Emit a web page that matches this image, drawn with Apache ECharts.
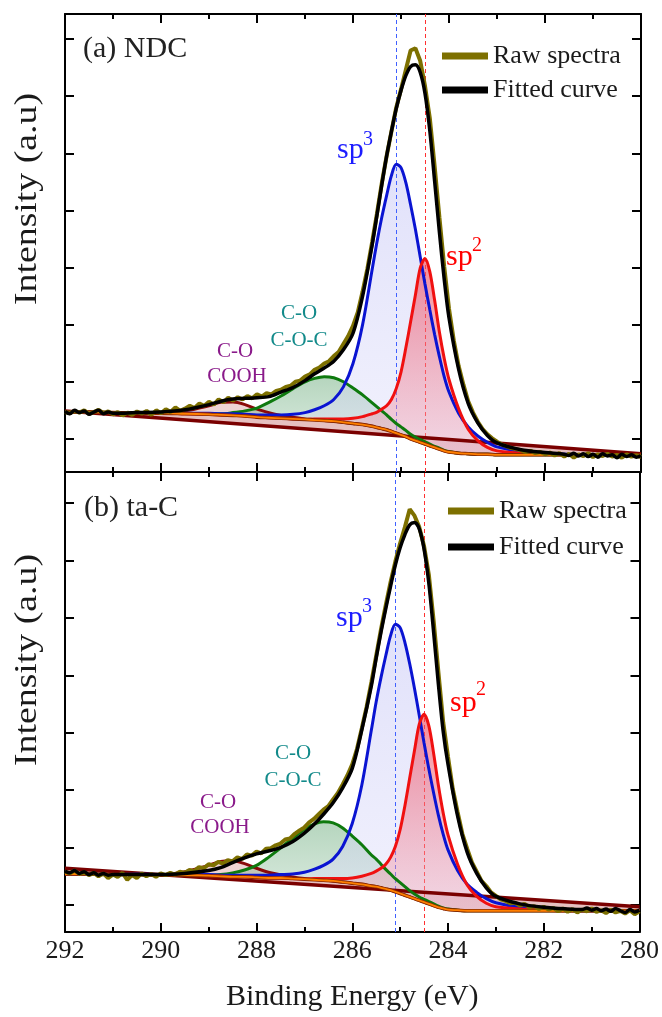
<!DOCTYPE html>
<html>
<head>
<meta charset="utf-8">
<script src="https://cdn.jsdelivr.net/npm/echarts@6.0.0/dist/echarts.min.js"></script>
<style>
  html, body { margin: 0; padding: 0; background: #fff; }
  #chart { width: 662px; height: 1017px; }
</style>
</head>
<body>
<div id="chart"></div>
<script>
// binding energy grid shared by the background and the fitted components (eV)
const energy = [292, 291.5, 291, 290.5, 290, 289.5, 289, 288.75, 288.5, 288.25, 288, 287.75, 287.5, 287.25, 287,
  286.8, 286.6, 286.4, 286.2, 286, 285.8, 285.6, 285.5, 285.4, 285.3, 285.2, 285.1, 285, 284.9, 284.8, 284.7,
  284.6, 284.5, 284.4, 284.3, 284.2, 284.1, 284, 283.8, 283.6, 283.4, 283.2, 283, 282.5, 282, 281.5, 281, 280.5, 280]

// vertical guide lines (sp3, sp2 positions)
const peakLines = [285.1, 284.5]
const yTicks = [0, 1, 2, 3, 4, 5, 6, 7]

// ---------- (a) NDC ----------
const shirleyA = [0.47, 0.47, 0.46, 0.45, 0.45, 0.44, 0.43, 0.42, 0.41, 0.40,
  0.38, 0.37, 0.36, 0.35, 0.34, 0.33, 0.32, 0.31, 0.29, 0.27,
  0.25, 0.22, 0.20, 0.18, 0.16, 0.13, 0.10, 0.07, 0.04, 0.00,
  -0.03, -0.06, -0.09, -0.12, -0.15, -0.18, -0.21, -0.23, -0.25, -0.26,
  -0.27, -0.27, -0.28, -0.28, -0.28, -0.28, -0.28, -0.28, -0.28]
// component heights above the background
const sp3A = [0, 0, 0, 0.01, 0.01, 0.01, 0.02, 0.02, 0.03, 0.03,
  0.04, 0.05, 0.06, 0.08, 0.12, 0.18, 0.26, 0.38, 0.62, 1.05,
  1.75, 2.75, 3.25, 3.70, 4.10, 4.48, 4.71, 4.68, 4.45, 4.10,
  3.70, 3.25, 2.80, 2.38, 1.98, 1.62, 1.30, 1.05, 0.70, 0.47,
  0.32, 0.21, 0.14, 0.06, 0.03, 0.01, 0, 0, 0]
const sp2A = [0, 0, 0, 0, 0, 0, 0, 0, 0, 0,
  0, 0, 0, 0, 0, 0.02, 0.03, 0.04, 0.06, 0.09,
  0.14, 0.22, 0.27, 0.34, 0.42, 0.56, 0.78, 1.10, 1.55, 2.05,
  2.55, 3.05, 3.25, 3.05, 2.58, 2.05, 1.62, 1.27, 0.78, 0.43,
  0.24, 0.12, 0.07, 0.03, 0.01, 0, 0, 0, 0]
const cocA = [0, 0, 0, 0, 0, 0.01, 0.01, 0.02, 0.05, 0.09,
  0.16, 0.27, 0.39, 0.53, 0.66, 0.73, 0.77, 0.76, 0.71, 0.62,
  0.52, 0.41, 0.36, 0.31, 0.26, 0.21, 0.17, 0.14, 0.11, 0.08,
  0.06, 0.05, 0.04, 0.03, 0.02, 0.02, 0.01, 0.01, 0, 0,
  0, 0, 0, 0, 0, 0, 0, 0, 0]
const coohA = [0, 0, 0, 0, 0.01, 0.05, 0.15, 0.22, 0.235, 0.20,
  0.14, 0.09, 0.05, 0.03, 0.01, 0.01, 0, 0, 0, 0,
  0, 0, 0, 0, 0, 0, 0, 0, 0, 0,
  0, 0, 0, 0, 0, 0, 0, 0, 0, 0,
  0, 0, 0, 0, 0, 0, 0, 0, 0]
const linearA = [[292, 0.49], [280, -0.26]]
const fitA = [[292.0, 0.48], [291.9, 0.44], [291.8, 0.50], [291.7, 0.46], [291.6, 0.49], [291.5, 0.43], [291.4, 0.47],
  [291.3, 0.50], [291.2, 0.44], [291.1, 0.47], [291.0, 0.45], [290.75, 0.45], [290.5, 0.46], [290, 0.47], [289.5, 0.51],
  [289, 0.60], [288.75, 0.66], [288.5, 0.70], [288.25, 0.71], [288, 0.72], [287.75, 0.74], [287.5, 0.82], [287.25, 0.90],
  [287, 1.02], [286.8, 1.14], [286.6, 1.24], [286.4, 1.36], [286.2, 1.56], [286, 1.85], [285.8, 2.50], [285.6, 3.40],
  [285.5, 3.92], [285.4, 4.45], [285.3, 4.95], [285.2, 5.38], [285.1, 5.78], [285, 6.10], [284.9, 6.36], [284.8, 6.52],
  [284.7, 6.55], [284.6, 6.42], [284.5, 6.05], [284.4, 5.40], [284.3, 4.52], [284.2, 3.62], [284.1, 2.80], [284, 2.12],
  [283.8, 1.22], [283.6, 0.62], [283.4, 0.28], [283.2, 0.06], [283, -0.07], [282.5, -0.19], [282, -0.24], [281.6, -0.27],
  [281.5, -0.29], [281.4, -0.25], [281.3, -0.30], [281.2, -0.26], [281.1, -0.31], [281.0, -0.27], [280.9, -0.32],
  [280.8, -0.26], [280.7, -0.30], [280.6, -0.28], [280.5, -0.33], [280.4, -0.27], [280.3, -0.31], [280.2, -0.28],
  [280.1, -0.32], [280.0, -0.29]]
const rawA = [[292.0, 0.47], [291.9, 0.45], [291.8, 0.49], [291.7, 0.46], [291.6, 0.50], [291.5, 0.44], [291.4, 0.47],
  [291.3, 0.51], [291.2, 0.45], [291.1, 0.48], [291.0, 0.43], [290.9, 0.47], [290.8, 0.41], [290.7, 0.46], [290.6, 0.42],
  [290.5, 0.48], [290.4, 0.44], [290.3, 0.49], [290.2, 0.42], [290.1, 0.50], [290.0, 0.45], [289.9, 0.52], [289.8, 0.47],
  [289.7, 0.55], [289.6, 0.49], [289.5, 0.53], [289.4, 0.58], [289.3, 0.54], [289.2, 0.62], [289.1, 0.58], [289.0, 0.65],
  [288.9, 0.60], [288.8, 0.69], [288.7, 0.64], [288.6, 0.72], [288.5, 0.67], [288.4, 0.73], [288.3, 0.69], [288.2, 0.75],
  [288.1, 0.71], [288.0, 0.78], [287.9, 0.74], [287.8, 0.80], [287.7, 0.78], [287.6, 0.84], [287.5, 0.86], [287.4, 0.91],
  [287.3, 0.93], [287.2, 1.00], [287.1, 1.02], [287.0, 1.09], [286.9, 1.13], [286.8, 1.21], [286.7, 1.25], [286.6, 1.32],
  [286.5, 1.36], [286.4, 1.45], [286.3, 1.52], [286.2, 1.66], [286.1, 1.80], [286.0, 1.98], [285.9, 2.22], [285.8, 2.58],
  [285.7, 2.98], [285.6, 3.45], [285.5, 3.95], [285.4, 4.48], [285.3, 4.95], [285.2, 5.38], [285.1, 5.80], [285.0, 6.12],
  [284.9, 6.46], [284.8, 6.80], [284.7, 6.84], [284.6, 6.62], [284.5, 6.18], [284.4, 5.62], [284.3, 4.78], [284.2, 3.88],
  [284.1, 3.02], [284.0, 2.28], [283.9, 1.72], [283.8, 1.28], [283.7, 0.95], [283.6, 0.66], [283.5, 0.46], [283.4, 0.30],
  [283.3, 0.17], [283.2, 0.08], [283.1, 0.01], [283.0, -0.05], [282.9, -0.10], [282.8, -0.13], [282.7, -0.16],
  [282.6, -0.18], [282.5, -0.20], [282.4, -0.23], [282.3, -0.21], [282.2, -0.25], [282.1, -0.23], [282.0, -0.27],
  [281.9, -0.24], [281.8, -0.29], [281.7, -0.25], [281.6, -0.31], [281.5, -0.26], [281.4, -0.33], [281.3, -0.27],
  [281.2, -0.30], [281.1, -0.25], [281.0, -0.32], [280.9, -0.27], [280.8, -0.30], [280.7, -0.26], [280.6, -0.31],
  [280.5, -0.28], [280.4, -0.33], [280.3, -0.27], [280.2, -0.31], [280.1, -0.29], [280.0, -0.32]]

// ---------- (b) ta-C ----------
const shirleyB = [0.54, 0.54, 0.53, 0.53, 0.52, 0.52, 0.51, 0.50, 0.49, 0.49,
  0.48, 0.47, 0.47, 0.46, 0.45, 0.44, 0.43, 0.42, 0.40, 0.38,
  0.36, 0.33, 0.32, 0.30, 0.28, 0.26, 0.23, 0.20, 0.17, 0.14,
  0.11, 0.08, 0.05, 0.02, -0.01, -0.04, -0.06, -0.08, -0.09, -0.10,
  -0.10, -0.10, -0.10, -0.10, -0.10, -0.10, -0.10, -0.10, -0.10]
const sp3B = [0, 0, 0, 0.01, 0.01, 0.01, 0.02, 0.02, 0.03, 0.03,
  0.04, 0.05, 0.06, 0.08, 0.12, 0.18, 0.26, 0.38, 0.62, 1.04,
  1.73, 2.72, 3.22, 3.66, 4.06, 4.43, 4.66, 4.63, 4.40, 4.06,
  3.66, 3.22, 2.77, 2.35, 1.96, 1.60, 1.29, 1.04, 0.69, 0.46,
  0.32, 0.21, 0.14, 0.06, 0.03, 0.01, 0, 0, 0]
const sp2B = [0, 0, 0, 0, 0, 0, 0, 0, 0, 0,
  0, 0, 0, 0, 0, 0.02, 0.03, 0.04, 0.06, 0.09,
  0.14, 0.22, 0.27, 0.34, 0.43, 0.57, 0.79, 1.11, 1.56, 2.07,
  2.58, 3.07, 3.27, 3.10, 2.65, 2.12, 1.66, 1.30, 0.80, 0.45,
  0.25, 0.13, 0.07, 0.03, 0.01, 0, 0, 0, 0]
const cocB = [0, 0, 0, 0, 0, 0.01, 0.01, 0.03, 0.07, 0.12,
  0.21, 0.36, 0.52, 0.70, 0.87, 0.97, 1.02, 1.01, 0.94, 0.82,
  0.69, 0.54, 0.48, 0.41, 0.34, 0.28, 0.23, 0.19, 0.15, 0.11,
  0.08, 0.06, 0.05, 0.04, 0.03, 0.02, 0.01, 0.01, 0, 0,
  0, 0, 0, 0, 0, 0, 0, 0, 0]
const coohB = [0, 0, 0, 0, 0.01, 0.06, 0.18, 0.26, 0.28, 0.23,
  0.16, 0.10, 0.06, 0.03, 0.01, 0.01, 0, 0, 0, 0,
  0, 0, 0, 0, 0, 0, 0, 0, 0, 0,
  0, 0, 0, 0, 0, 0, 0, 0, 0, 0,
  0, 0, 0, 0, 0, 0, 0, 0, 0]
const linearB = [[292, 0.64], [280, -0.03]]
const fitB = [[292.0, 0.59], [291.9, 0.56], [291.8, 0.60], [291.7, 0.55], [291.6, 0.58], [291.5, 0.53], [291.4, 0.56],
  [291.3, 0.52], [291.2, 0.55], [291.1, 0.52], [291, 0.53], [290.5, 0.53], [290, 0.53], [289.5, 0.55], [289, 0.60],
  [288.75, 0.65], [288.5, 0.74], [288.25, 0.82], [288, 0.89], [287.75, 0.94], [287.5, 1.00], [287.25, 1.10], [287, 1.25],
  [286.8, 1.40], [286.6, 1.58], [286.4, 1.78], [286.2, 2.04], [286, 2.38], [285.8, 3.05], [285.6, 3.82], [285.5, 4.30],
  [285.4, 4.75], [285.3, 5.16], [285.2, 5.55], [285.1, 5.92], [285, 6.22], [284.9, 6.45], [284.8, 6.62], [284.7, 6.66],
  [284.6, 6.55], [284.5, 6.20], [284.4, 5.60], [284.3, 4.75], [284.2, 3.84], [284.1, 3.02], [284, 2.45], [283.8, 1.55],
  [283.6, 0.92], [283.4, 0.55], [283.2, 0.30], [283, 0.15], [282.5, 0.02], [282, -0.04], [281.5, -0.07], [281.2, -0.08],
  [281.1, -0.05], [281.0, -0.09], [280.9, -0.06], [280.8, -0.10], [280.7, -0.07], [280.6, -0.11], [280.5, -0.06],
  [280.4, -0.10], [280.3, -0.13], [280.2, -0.08], [280.1, -0.12], [280.0, -0.09]]
const rawB = [[292.0, 0.58], [291.9, 0.55], [291.8, 0.60], [291.7, 0.54], [291.6, 0.57], [291.5, 0.52], [291.4, 0.56],
  [291.3, 0.50], [291.2, 0.55], [291.1, 0.47], [291.0, 0.53], [290.9, 0.49], [290.8, 0.56], [290.7, 0.44], [290.6, 0.52],
  [290.5, 0.47], [290.4, 0.55], [290.3, 0.50], [290.2, 0.54], [290.1, 0.49], [290.0, 0.55], [289.9, 0.52], [289.8, 0.56],
  [289.7, 0.53], [289.6, 0.58], [289.5, 0.56], [289.4, 0.61], [289.3, 0.59], [289.2, 0.66], [289.1, 0.64], [289.0, 0.71],
  [288.9, 0.69], [288.8, 0.75], [288.7, 0.72], [288.6, 0.78], [288.5, 0.76], [288.4, 0.83], [288.3, 0.80], [288.2, 0.88],
  [288.1, 0.86], [288.0, 0.93], [287.9, 0.90], [287.8, 0.98], [287.7, 0.99], [287.6, 1.04], [287.5, 1.07], [287.4, 1.14],
  [287.3, 1.16], [287.2, 1.24], [287.1, 1.30], [287.0, 1.35], [286.9, 1.44], [286.8, 1.50], [286.7, 1.58], [286.6, 1.66],
  [286.5, 1.72], [286.4, 1.84], [286.3, 1.95], [286.2, 2.10], [286.1, 2.26], [286.0, 2.45], [285.9, 2.72], [285.8, 3.08],
  [285.7, 3.45], [285.6, 3.88], [285.5, 4.34], [285.4, 4.80], [285.3, 5.22], [285.2, 5.62], [285.1, 5.98], [285.0, 6.30],
  [284.9, 6.58], [284.8, 6.89], [284.7, 6.78], [284.6, 6.58], [284.5, 6.25], [284.4, 5.75], [284.3, 4.95], [284.2, 4.05],
  [284.1, 3.18], [284.0, 2.58], [283.9, 2.02], [283.8, 1.62], [283.7, 1.24], [283.6, 0.98], [283.5, 0.74], [283.4, 0.58],
  [283.3, 0.42], [283.2, 0.33], [283.1, 0.22], [283.0, 0.16], [282.9, 0.10], [282.8, 0.07], [282.7, 0.03], [282.6, 0.04],
  [282.5, -0.01], [282.4, 0.02], [282.3, -0.04], [282.2, -0.02], [282.1, -0.07], [282.0, -0.03], [281.9, -0.08],
  [281.8, -0.05], [281.7, -0.11], [281.6, -0.06], [281.5, -0.12], [281.4, -0.07], [281.3, -0.13], [281.2, -0.08],
  [281.1, -0.11], [281.0, -0.06], [280.9, -0.12], [280.8, -0.09], [280.7, -0.14], [280.6, -0.08], [280.5, -0.13],
  [280.4, -0.10], [280.3, -0.15], [280.2, -0.09], [280.1, -0.16], [280.0, -0.11]]

const SERIF = "'Liberation Serif', 'Times New Roman', serif"
const grad = (a, b) => new echarts.graphic.LinearGradient(0, 0, 0, 1, [
  { offset: 0, color: a }, { offset: 1, color: b }
])

// component line = background + component height
const onBg = (bg, d) => energy.map((e, i) => [e, +(bg[i] + d[i]).toFixed(3)])
const pairs = vals => energy.map((e, i) => [e, vals[i]])

// filled band between two curves, drawn through the axis scales
function band(upper, lower, fill, xi, yi, z) {
  return {
    type: 'custom', xAxisIndex: xi, yAxisIndex: yi, z, silent: true, clip: true,
    data: [upper[0]],
    renderItem(params, api) {
      const pts = upper.map(p => api.coord(p))
        .concat(lower.slice().reverse().map(p => api.coord(p)))
      return { type: 'polygon', shape: { points: pts }, style: { fill } }
    }
  }
}

function line(name, data, color, width, xi, yi, z, smooth, extra) {
  return Object.assign({
    name, type: 'line', data, xAxisIndex: xi, yAxisIndex: yi, z,
    color, showSymbol: false, symbol: 'none', smooth, silent: true,
    lineStyle: { color, width }
  }, extra || {})
}

const panels = [
  { xi: 0, yi: 0, bg: shirleyA, sp3: sp3A, sp2: sp2A, coc: cocA, cooh: coohA, lin: linearA, fit: fitA, raw: rawA },
  { xi: 2, yi: 2, bg: shirleyB, sp3: sp3B, sp2: sp2B, coc: cocB, cooh: coohB, lin: linearB, fit: fitB, raw: rawB }
]

const series = []
panels.forEach(p => {
  const bg = pairs(p.bg)
  const sp3 = onBg(p.bg, p.sp3)
  const sp2 = onBg(p.bg, p.sp2)
  const coc = onBg(p.bg, p.coc)
  const cooh = onBg(p.bg, p.cooh)
  series.push(
    band(bg, p.lin, 'rgba(190, 90, 90, 0.38)', p.xi, p.yi, 1),
    band(cooh, bg, 'rgba(200, 110, 110, 0.30)', p.xi, p.yi, 2),
    band(coc, bg, grad('rgba(70, 150, 90, 0.40)', 'rgba(120, 180, 140, 0.25)'), p.xi, p.yi, 3),
    band(sp3, bg, grad('rgba(195, 195, 245, 0.50)', 'rgba(220, 220, 250, 0.40)'), p.xi, p.yi, 4),
    band(sp2, bg, grad('rgba(238, 70, 90, 0.62)', 'rgba(242, 170, 185, 0.38)'), p.xi, p.yi, 5),
    line('linear', p.lin, '#7a0000', 3.5, p.xi, p.yi, 6, false, {
      markLine: {
        silent: true, symbol: 'none', label: { show: false },
        data: peakLines.map((e, k) => ({
          xAxis: e, lineStyle: { color: k ? '#ff3030' : '#4060ff', width: 1, type: [4, 3] }
        }))
      }
    }),
    line('COOH', cooh, '#8b0a0a', 3, p.xi, p.yi, 7, 0.3),
    line('C-O-C', coc, '#0e7a0e', 3, p.xi, p.yi, 8, 0.3),
    line('sp3', sp3, '#0a14d2', 3, p.xi, p.yi, 9, 0.3),
    line('sp2', sp2, '#f01010', 3, p.xi, p.yi, 10, 0.3),
    line('shirley-edge', bg, '#8a2a00', 3.5, p.xi, p.yi, 11, 0.3),
    line('shirley', bg, '#ff8000', 1.8, p.xi, p.yi, 12, 0.3),
    line('Raw spectra', p.raw, '#7d7000', 4, p.xi, p.yi, 13, false),
    line('Fitted curve', p.fit, '#000000', 3.5, p.xi, p.yi, 14, 0.3)
  )
})

function xAx(gi, pos, labels) {
  const ax = {
    type: 'value', gridIndex: gi, position: pos, min: 280, max: 292, interval: 2, inverse: true,
    axisLine: { onZero: false, lineStyle: { color: '#000', width: 2 } },
    axisTick: { inside: true, length: 9, lineStyle: { color: '#000', width: 2 } },
    minorTick: { show: true, splitNumber: 2, length: 5, lineStyle: { color: '#000', width: 2 } },
    axisLabel: { show: labels, margin: 6, fontFamily: SERIF, fontSize: 26, color: '#1a1a1a' },
    splitLine: { show: false }, minorSplitLine: { show: false }
  }
  if (labels) {
    ax.name = 'Binding Energy (eV)'
    ax.nameLocation = 'middle'
    ax.nameGap = 50
    ax.nameTextStyle = { fontFamily: SERIF, fontSize: 30, color: '#1a1a1a' }
  }
  return ax
}
function yAx(gi, pos, min, max) {
  return {
    type: 'value', gridIndex: gi, position: pos, min, max,
    axisLine: { show: true, onZero: false, lineStyle: { color: '#000', width: 2 } },
    axisTick: { show: true, inside: true, length: 9, customValues: yTicks, lineStyle: { color: '#000', width: 2 } },
    axisLabel: { show: false },
    splitLine: { show: false }
  }
}

const txt = (text, x, y, size, fill, align) => ({
  type: 'text', x, y, silent: true,
  style: { text, font: size + 'px ' + SERIF, fill, align: align || 'left', verticalAlign: 'middle' }
})
// rotated axis title, stretched along its length like the original artwork
const yTitle = (y) => Object.assign(txt('Intensity (a.u)', 28, y, 31, '#1a1a1a', 'center'),
  { rotation: Math.PI / 2, scaleX: 1.22 })

const chart = echarts.init(document.getElementById('chart'), null, { renderer: 'canvas' })
chart.setOption({
  animation: false,
  backgroundColor: '#fff',
  grid: [
    { left: 65, right: 21, top: 14, height: 458 },
    { left: 65, right: 21, top: 472, height: 460 }
  ],
  xAxis: [xAx(0, 'bottom', false), xAx(0, 'top', false), xAx(1, 'bottom', true), xAx(1, 'top', false)],
  yAxis: [yAx(0, 'left', -0.58, 7.44), yAx(0, 'right', -0.58, 7.44), yAx(1, 'left', -0.47, 7.54), yAx(1, 'right', -0.47, 7.54)],
  legend: [
    {
      left: 437, top: 38, orient: 'vertical', itemWidth: 46, itemHeight: 7, itemGap: 8,
      selectedMode: false, textStyle: { fontFamily: SERIF, fontSize: 26, color: '#1a1a1a', lineHeight: 24 },
      data: [{ name: 'Raw spectra', icon: 'rect' }, { name: 'Fitted curve', icon: 'rect' }]
    },
    {
      left: 443, top: 493, orient: 'vertical', itemWidth: 46, itemHeight: 7, itemGap: 10,
      selectedMode: false, textStyle: { fontFamily: SERIF, fontSize: 26, color: '#1a1a1a', lineHeight: 24 },
      data: [{ name: 'Raw spectra', icon: 'rect' }, { name: 'Fitted curve', icon: 'rect' }]
    }
  ],
  graphic: [
    txt('(a) NDC', 83, 49, 30, '#222'),
    txt('(b) ta-C', 84, 508, 30, '#222'),
    txt('sp', 337, 150, 30, '#1c1cff'), txt('3', 363, 140, 20, '#1c1cff'),
    txt('sp', 446, 257, 30, '#ff0000'), txt('2', 472, 246, 20, '#ff0000'),
    txt('C-O', 299, 313, 21, '#128a8a', 'center'), txt('C-O-C', 299, 340, 21, '#128a8a', 'center'),
    txt('C-O', 235, 351, 21, '#8a1a8a', 'center'), txt('COOH', 237, 376, 21, '#8a1a8a', 'center'),
    txt('sp', 336, 618, 30, '#1c1cff'), txt('3', 362, 607, 20, '#1c1cff'),
    txt('sp', 450, 703, 30, '#ff0000'), txt('2', 476, 690, 20, '#ff0000'),
    txt('C-O', 293, 753, 21, '#128a8a', 'center'), txt('C-O-C', 293, 780, 21, '#128a8a', 'center'),
    txt('C-O', 218, 802, 21, '#8a1a8a', 'center'), txt('COOH', 220, 827, 21, '#8a1a8a', 'center'),
    yTitle(199),
    yTitle(660)
  ],
  series
})

window.addEventListener('resize', () => chart.resize())
</script>
</body>
</html>
